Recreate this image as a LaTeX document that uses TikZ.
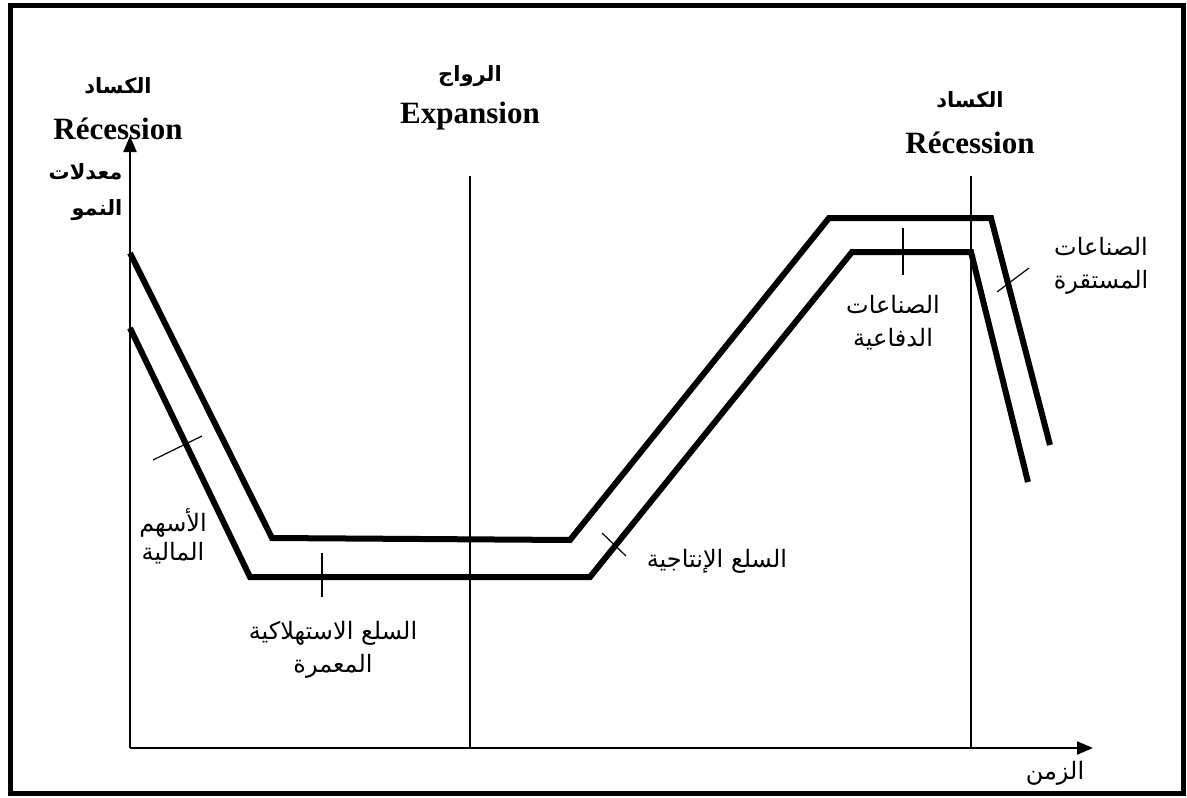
\documentclass[tikz,border=0pt]{standalone}
\usepackage{fontspec}
\setmainfont{Liberation Serif}
\newfontfamily\arabicfont[Script=Arabic]{DejaVu Sans}
\TeXXeTstate=1
\usetikzlibrary{arrows,arrows.meta}
\usetikzlibrary{positioning}

\tikzset{
	curve/.style={line width=6pt, line join=miter},
	tick/.style={line width=1.2pt},
	phase/.style={line width=1.2pt},
	axis/.style={-{Triangle[length=16pt,width=13pt]}, line width=2.2pt},
	arlabel/.style={font=\arabicfont\fontsize{24}{33}\selectfont, align=center},
	arhead/.style={font=\arabicfont\bfseries\fontsize{21}{26}\selectfont, align=center},
	lathead/.style={font=\bfseries\fontsize{31}{36}\selectfont}
}

\begin{document}
\begin{tikzpicture}[x=1pt,y=-1pt]
		\useasboundingbox (0,0) rectangle (1187,798);
		\draw[line width=5pt] (10,5.5) rectangle (1183,793.5);

		% axes
		\coordinate (O) at (130,748);
		\coordinate (ytop) at (130,136);
		\coordinate (xend) at (1093,748);
		\draw[axis] (O)--(ytop);
		\draw[axis] (O)--(xend);

		% phase separators
		\coordinate (s1top) at (470,176);
		\coordinate (s1bot) at (470,748);
		\coordinate (s2top) at (971,176);
		\coordinate (s2bot) at (971,748);
		\draw[phase] (s1top)--(s1bot);
		\draw[phase] (s2top)--(s2bot);

		% the two curves
		\draw[curve] (130,253)--(272,538)--(570,540)--(829,218)--(991,218)--(1050,445);
		\draw[curve] (130,328)--(250,577)--(590,577)--(852,252)--(971,252)--(1028,482);

		% tick marks
		\coordinate (t1a) at (153,460); \coordinate (t1b) at (202,436);
		\coordinate (t2a) at (322,553); \coordinate (t2b) at (322,597);
		\coordinate (t3a) at (602,533); \coordinate (t3b) at (626,556);
		\coordinate (t4a) at (903,228); \coordinate (t4b) at (903,275);
		\coordinate (t5a) at (997,292); \coordinate (t5b) at (1029,268);
		\draw[tick] (t1a)--(t1b);
		\draw[tick] (t2a)--(t2b);
		\draw[tick] (t3a)--(t3b);
		\draw[tick] (t4a)--(t4b);
		\draw[tick] (t5a)--(t5b);

		% headings
		\node[arhead] (kas1) at (118,86) {\beginR الكساد\endR};
		\node[lathead] (rec1) at (118,129) {Récession};
		\node[arhead, anchor=east] (mu1) at (126,172) {\beginR معدلات\endR};
		\node[arhead, anchor=east] (mu2) at (126,210) {\beginR النمو\endR};
		\node[arhead] (raw) at (470,76) {\beginR الرواج\endR};
		\node[lathead] (exp) at (470,116) {Expansion};
		\node[arhead] (kas2) at (970,100) {\beginR الكساد\endR};
		\node[lathead] (rec2) at (970,143) {Récession};

		% sector labels
		\node[arlabel] (ashum) at (173,536) {\beginR الأسهم\endR\\[-4pt]\beginR المالية\endR};
		\node[arlabel] (istih) at (333,650) {\beginR السلع الاستهلاكية\endR\\\beginR المعمرة\endR};
		\node[arlabel] (intaj) at (717,561) {\beginR السلع الإنتاجية\endR};
		\node[arlabel] (difa) at (893,323) {\beginR الصناعات\endR\\\beginR الدفاعية\endR};
		\node[arlabel] (mustaq) at (1101,266) {\beginR الصناعات\endR\\\beginR المستقرة\endR};
		\node[arlabel] (zaman) at (1055,773) {\beginR الزمن\endR};
	\end{tikzpicture}
\end{document}
